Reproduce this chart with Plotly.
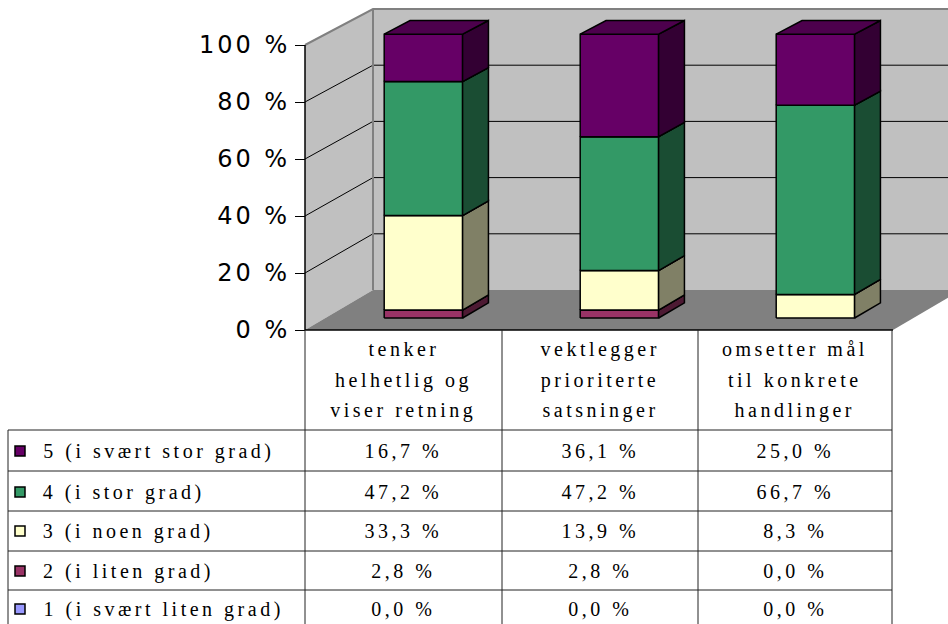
import plotly.graph_objects as go

# ---- data -------------------------------------------------------------
categories = ["tenker<br>helhetlig og<br>viser retning",
              "vektlegger<br>prioriterte<br>satsninger",
              "omsetter mål<br>til konkrete<br>handlinger"]
series_names = ["1 (i svært liten grad)", "2 (i liten grad)", "3 (i noen grad)",
                "4 (i stor grad)", "5 (i svært stor grad)"]
s1 = [0.0, 0.0, 0.0]
s2 = [2.8, 2.8, 0.0]
s3 = [33.3, 13.9, 8.3]
s4 = [47.2, 47.2, 66.7]
s5 = [16.7, 36.1, 25.0]
series_values = [s1, s2, s3, s4, s5]
y_ticks = [0, 20, 40, 60, 80, 100]

# ---- styling ----------------------------------------------------------
front_col = ["#9999FF", "#993366", "#FFFFCC", "#339966", "#660066"]
side_col = ["#4D4D80", "#4D1A33", "#808066", "#1A4D33", "#330033"]
top_col = ["#7373BF", "#73264D", "#BFBF99", "#26734D", "#4D004D"]

W, H = 948, 624
X0, Y0 = 305.0, 330.0          # front-left-bottom corner of the plot box (px)
CAT_W = 196.0                  # px per category on the front plane
PX_PER_PCT = 2.85              # px per percent on the front plane
DEPTH_X = 68.0                 # horizontal shift of the back wall (px)
DEPTH_Y0, DEPTH_Y1 = 40.0, 36.0  # vertical shift of the back wall at 0 % / 100 %
LETTER_SP = 3.5                # letter spacing of the table text (px)


def proj(u, v, d):
    """Oblique projection of (category u, value v, depth d) into axis units."""
    dy = DEPTH_Y0 + (DEPTH_Y1 - DEPTH_Y0) * v / 100.0
    return u + d * DEPTH_X / CAT_W, v + d * dy / PX_PER_PCT


def px_u(px):
    return (px - X0) / CAT_W


def py_v(py):
    return (Y0 - py) / PX_PER_PCT


def path(points):
    pts = [proj(*p) for p in points]
    return "M " + " L ".join(f"{x:.5f},{y:.5f}" for x, y in pts) + " Z"


def line_path(points):
    pts = [proj(*p) for p in points]
    return "M " + " L ".join(f"{x:.5f},{y:.5f}" for x, y in pts)


fig = go.Figure()
shapes = []

# ---- walls, floor and gridlines --------------------------------------
U_FAR = 3.6
shapes.append(dict(type="path", path=path([(0, 0, 0), (0, 100, 0), (0, 100, 1), (0, 0, 1)]),
                   fillcolor="#C0C0C0", line=dict(width=0), layer="below"))
shapes.append(dict(type="path", path=path([(0, 0, 1), (0, 100, 1), (U_FAR, 100, 1), (U_FAR, 0, 1)]),
                   fillcolor="#C0C0C0", line=dict(width=0), layer="below"))
shapes.append(dict(type="path", path=path([(0, 0, 0), (3, 0, 0), (3, 0, 1), (0, 0, 1)]),
                   fillcolor="#808080", line=dict(width=0), layer="below"))
for v in y_ticks[1:-1]:
    shapes.append(dict(type="path", path=line_path([(0, v, 0), (0, v, 1), (U_FAR, v, 1)]),
                       line=dict(color="#000000", width=1), layer="below"))
shapes.append(dict(type="path", path=line_path([(0, 100, 0), (0, 100, 1), (U_FAR, 100, 1)]),
                   line=dict(color="#808080", width=2), layer="below"))
shapes.append(dict(type="path", path=line_path([(0, 0, 1), (0, 100, 1)]),
                   line=dict(color="#808080", width=2), layer="below"))
# value axis line and category axis line
shapes.append(dict(type="path", path=line_path([(0, 0, 0), (0, 100, 0)]),
                   line=dict(color="#000000", width=1.5)))
shapes.append(dict(type="path", path=line_path([(0, 0, 0), (3, 0, 0)]),
                   line=dict(color="#000000", width=1.5)))

# ---- stacked 3D bars -------------------------------------------------
BAR_U0, BAR_U1 = 0.3, 0.7
BAR_D0, BAR_D1 = 0.3, 0.68
base = [0.0] * len(categories)
for k, vals in enumerate(series_values):
    faces = {"front": ([], []), "side": ([], []), "top": ([], [])}
    for i, val in enumerate(vals):
        if val <= 0:
            continue
        b, t = base[i], base[i] + val
        u0, u1 = i + BAR_U0, i + BAR_U1
        polys = {
            "front": [(u0, b, BAR_D0), (u1, b, BAR_D0), (u1, t, BAR_D0), (u0, t, BAR_D0)],
            "side": [(u1, b, BAR_D0), (u1, b, BAR_D1), (u1, t, BAR_D1), (u1, t, BAR_D0)],
            "top": [(u0, t, BAR_D0), (u1, t, BAR_D0), (u1, t, BAR_D1), (u0, t, BAR_D1)],
        }
        for name, poly in polys.items():
            xs, ys = faces[name]
            for p in poly + [poly[0]]:
                x, y = proj(*p)
                xs.append(x)
                ys.append(y)
            xs.append(None)
            ys.append(None)
        base[i] = t
    colors = {"front": front_col[k], "side": side_col[k], "top": top_col[k]}
    for name, (xs, ys) in faces.items():
        if not xs:
            continue
        fig.add_trace(go.Scatter(x=xs, y=ys, mode="lines", fill="toself",
                                 fillcolor=colors[name],
                                 line=dict(color="#000000", width=1.5),
                                 hoverinfo="skip", showlegend=False,
                                 name=series_names[k]))

# ---- data table below the chart --------------------------------------
annotations = []
col_edges = [305, 502, 698, 892]
row_edges = [430, 471, 511, 551, 590]
TABLE_LEFT = 8
line_col = "#222222"

for x in col_edges:
    shapes.append(dict(type="line", x0=px_u(x), x1=px_u(x), y0=py_v(330), y1=py_v(H + 2),
                       line=dict(color=line_col, width=1)))
shapes.append(dict(type="line", x0=px_u(TABLE_LEFT), x1=px_u(TABLE_LEFT),
                   y0=py_v(row_edges[0]), y1=py_v(H + 2), line=dict(color=line_col, width=1)))
for y in row_edges:
    shapes.append(dict(type="line", x0=px_u(TABLE_LEFT), x1=px_u(col_edges[-1]),
                       y0=py_v(y), y1=py_v(y), line=dict(color=line_col, width=1)))

serif = dict(family="Liberation Serif, Times New Roman, serif", size=20, color="#000000")
header_line_y = [349, 380, 410]
for i, cat in enumerate(categories):
    cx = (col_edges[i] + col_edges[i + 1]) / 2
    for j, line in enumerate(cat.split("<br>")):
        annotations.append(dict(x=px_u(cx), y=py_v(header_line_y[j]), text=line,
                                showarrow=False, xanchor="center", yanchor="middle",
                                font=serif))

row_text_y = [451, 492, 531, 571, 609]
for r, k in enumerate(range(len(series_values) - 1, -1, -1)):
    yc = row_text_y[r]
    shapes.append(dict(type="rect", x0=px_u(15), x1=px_u(25), y0=py_v(yc - 5), y1=py_v(yc + 5),
                       fillcolor=front_col[k], line=dict(color="#000000", width=1.5)))
    # the text grows symmetrically once spaced, so shift it to keep its left edge
    annotations.append(dict(x=px_u(41), y=py_v(yc), text=series_names[k], showarrow=False,
                            xanchor="left", yanchor="middle", font=serif,
                            xshift=LETTER_SP * len(series_names[k]) / 2))
    for i, val in enumerate(series_values[k]):
        cx = (col_edges[i] + col_edges[i + 1]) / 2
        label = f"{val:.1f} %".replace(".", ",")
        annotations.append(dict(x=px_u(cx), y=py_v(yc), text=label, showarrow=False,
                                xanchor="center", yanchor="middle", font=serif))

fig.update_layout(
    width=W, height=H,
    margin=dict(l=0, r=0, t=0, b=0),
    paper_bgcolor="#FFFFFF", plot_bgcolor="#FFFFFF",
    shapes=shapes, annotations=annotations, showlegend=False,
    xaxis=dict(range=[px_u(0), px_u(W)], visible=False, fixedrange=True),
    yaxis=dict(range=[py_v(H), py_v(0)], fixedrange=True, anchor="free", position=X0 / W,
               showgrid=False, zeroline=False, showline=False,
               tickvals=y_ticks, ticktext=[f"{v} %" for v in y_ticks],
               ticks="outside", ticklen=10, tickwidth=1, tickcolor="#000000",
               tickfont=dict(family="DejaVu Sans, Arial, sans-serif", size=24, color="#000000"),
               automargin=False),
)

spacing_js = """
var gd = document.getElementById('{plot_id}');
gd.querySelectorAll('.annotation-text').forEach(function(t){ t.style.letterSpacing = '%spx'; });
gd.querySelectorAll('.ytick text').forEach(function(t){ t.style.letterSpacing = '3px'; });
""" % LETTER_SP
fig.write_html("out.html", post_script=spacing_js)
